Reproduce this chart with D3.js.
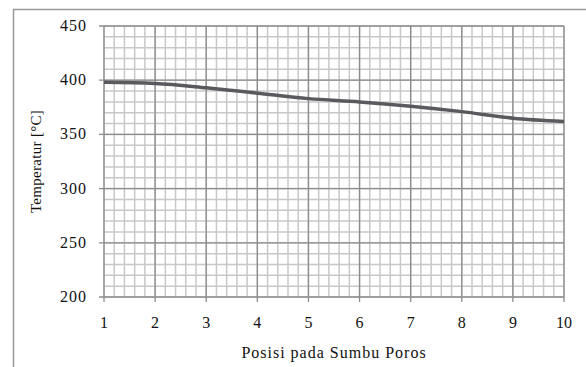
<!DOCTYPE html>
<html>
<head>
<meta charset="utf-8">
<script src="https://cdn.jsdelivr.net/npm/d3@7"></script>
<style>
  body { margin: 0; background: #fff; }
</style>
</head>
<body>
<div id="chart"></div>
<script>
// data
let positions = [1, 2, 3, 4, 5, 6, 7, 8, 9, 10];
let temps = [398, 397, 393, 388, 383, 380, 376, 371, 365, 362];
let yTicks = [200, 250, 300, 350, 400, 450];

let config = { svg: {}, plot: {} };
config.svg.width = 586;
config.svg.height = 367;
config.plot.left = 104;
config.plot.right = 564;
config.plot.top = 26;
config.plot.bottom = 297;

let svg = d3.select('#chart').append('svg')
  .attr('width', config.svg.width)
  .attr('height', config.svg.height)
  .attr('font-family', '"Liberation Serif", "Times New Roman", serif')
  .attr('fill', '#111');

// outer frame
svg.append('rect')
  .attr('x', 13.5).attr('y', 9.5)
  .attr('width', 600).attr('height', 400)
  .attr('fill', 'none').attr('stroke', '#999').attr('stroke-width', 1.5);

let x = d3.scaleLinear().domain([1, 10]).range([config.plot.left, config.plot.right]);
let y = d3.scaleLinear().domain([200, 450]).range([config.plot.bottom, config.plot.top]);

// minor grid
let minorX = d3.range(1, 10.001, 0.2);
let minorY = d3.range(200, 450.001, 10);
svg.append('g').selectAll('line').data(minorX).enter().append('line')
  .attr('x1', d => x(d)).attr('x2', d => x(d))
  .attr('y1', config.plot.top).attr('y2', config.plot.bottom)
  .attr('stroke', '#c8c8c8').attr('stroke-width', 1.5);
svg.append('g').selectAll('line').data(minorY).enter().append('line')
  .attr('x1', config.plot.left).attr('x2', config.plot.right)
  .attr('y1', d => y(d)).attr('y2', d => y(d))
  .attr('stroke', '#c8c8c8').attr('stroke-width', 1.5);

// major grid
svg.append('g').selectAll('line').data(positions).enter().append('line')
  .attr('x1', d => x(d)).attr('x2', d => x(d))
  .attr('y1', config.plot.top).attr('y2', config.plot.bottom + 5)
  .attr('stroke', '#8c8c8c').attr('stroke-width', 1.3);
svg.append('g').selectAll('line').data(yTicks).enter().append('line')
  .attr('x1', config.plot.left - 5).attr('x2', config.plot.right)
  .attr('y1', d => y(d)).attr('y2', d => y(d))
  .attr('stroke', '#8c8c8c').attr('stroke-width', 1.3);

// tick labels
svg.append('g').selectAll('text').data(yTicks).enter().append('text')
  .attr('x', 87).attr('y', d => y(d) + 5)
  .attr('text-anchor', 'end').attr('font-size', 16).attr('letter-spacing', 1)
  .text(d => d);
svg.append('g').selectAll('text').data(positions).enter().append('text')
  .attr('x', d => x(d)).attr('y', 328)
  .attr('text-anchor', 'middle').attr('font-size', 16)
  .text(d => d);

// line
let line = d3.line().x((d, i) => x(positions[i])).y(d => y(d)).curve(d3.curveMonotoneX);
svg.append('path').datum(temps)
  .attr('d', line)
  .attr('fill', 'none').attr('stroke', '#5a5a5e').attr('stroke-width', 3.5);

// axis titles
svg.append('text')
  .attr('transform', 'translate(41,' + ((config.plot.top + config.plot.bottom) / 2) + ') rotate(-90)')
  .attr('text-anchor', 'middle').attr('font-size', 15).attr('letter-spacing', 0.3)
  .text('Temperatur [°C]');
svg.append('text')
  .attr('x', (config.plot.left + config.plot.right) / 2).attr('y', 358)
  .attr('text-anchor', 'middle').attr('font-size', 16).attr('letter-spacing', 1)
  .text('Posisi pada Sumbu Poros');
</script>
</body>
</html>
